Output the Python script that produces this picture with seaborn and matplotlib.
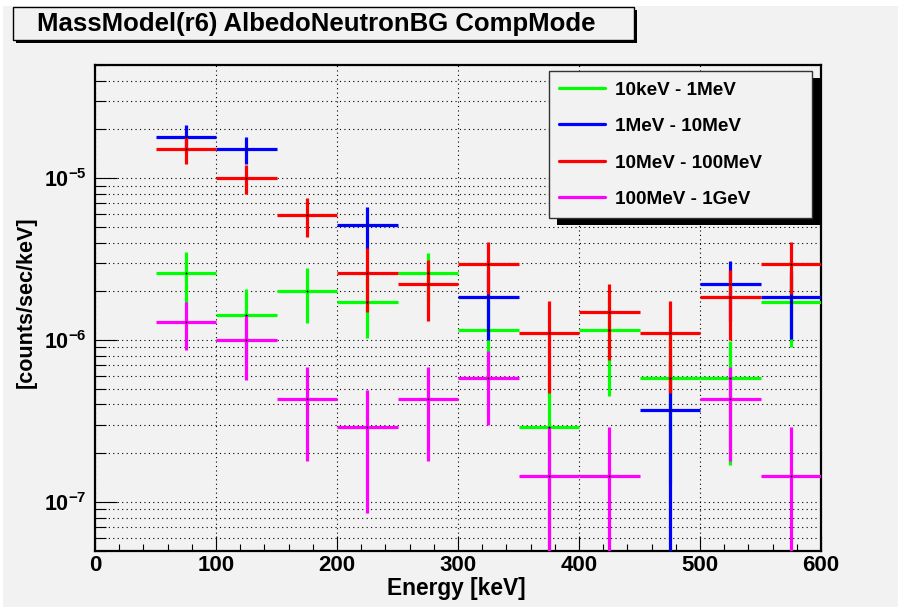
import numpy as np
import pandas as pd
import matplotlib
matplotlib.use("Agg")
import matplotlib.pyplot as plt
import seaborn as sns
from matplotlib import ticker
from matplotlib.patches import Rectangle
from matplotlib.lines import Line2D
from matplotlib.transforms import IdentityTransform

# ---------------- data ----------------
bin_centers = [75, 125, 175, 225, 275, 325, 375, 425, 475, 525, 575]
bin_half_width = 25

series_names = ["10keV - 1MeV", "1MeV - 10MeV", "10MeV - 100MeV", "100MeV - 1GeV"]
series_colors = ["#00ff00", "#0000ff", "#ff0000", "#ff00ff"]

rate_10keV_1MeV = [2.6e-6, 1.43e-6, 2.02e-6, 1.73e-6, 2.6e-6, 1.15e-6, 0.29e-6, 1.15e-6, 0.58e-6, 0.58e-6, 1.73e-6]
err_10keV_1MeV = [0.9e-6, 0.65e-6, 0.75e-6, 0.7e-6, 0.85e-6, 0.6e-6, 0.29e-6, 0.7e-6, 0.45e-6, 0.41e-6, 0.82e-6]

rate_1MeV_10MeV = [18.0e-6, 15.1e-6, np.nan, 5.16e-6, np.nan, 1.85e-6, np.nan, np.nan, 0.37e-6, 2.21e-6, 1.85e-6]
err_1MeV_10MeV = [3.3e-6, 2.9e-6, np.nan, 1.5e-6, np.nan, 0.85e-6, np.nan, np.nan, 0.37e-6, 0.89e-6, 0.83e-6]

rate_10MeV_100MeV = [15.1e-6, 10.0e-6, 5.92e-6, 2.59e-6, 2.21e-6, 2.97e-6, 1.11e-6, 1.48e-6, 1.11e-6, 1.85e-6, 2.97e-6]
err_10MeV_100MeV = [2.9e-6, 2.0e-6, 1.57e-6, 1.1e-6, 0.9e-6, 1.05e-6, 0.64e-6, 0.73e-6, 0.64e-6, 0.85e-6, 1.04e-6]

rate_100MeV_1GeV = [1.3e-6, 1.0e-6, 0.43e-6, 0.29e-6, 0.43e-6, 0.58e-6, 0.144e-6, 0.144e-6, np.nan, 0.43e-6, 0.144e-6]
err_100MeV_1GeV = [0.43e-6, 0.43e-6, 0.25e-6, 0.205e-6, 0.25e-6, 0.28e-6, 0.145e-6, 0.145e-6, np.nan, 0.25e-6, 0.145e-6]

x_ticks = [0, 100, 200, 300, 400, 500, 600]
title_text = "MassModel(r6) AlbedoNeutronBG CompMode"
x_label = "Energy [keV]"
y_label = "[counts/sec/keV]"

rates = [rate_10keV_1MeV, rate_1MeV_10MeV, rate_10MeV_100MeV, rate_100MeV_1GeV]
errs = [err_10keV_1MeV, err_1MeV_10MeV, err_10MeV_100MeV, err_100MeV_1GeV]
frames = []
for name, r, e in zip(series_names, rates, errs):
    frames.append(pd.DataFrame({"series": name, "energy": bin_centers, "rate": r, "err": e}))
df = pd.concat(frames, ignore_index=True).dropna()

# ---------------- style ----------------
sns.set_theme(style="ticks")
plt.rcParams["font.family"] = ["Liberation Sans", "DejaVu Sans"]
plt.rcParams["font.weight"] = "bold"
plt.rcParams["text.color"] = "black"
plt.rcParams["axes.labelcolor"] = "black"
plt.rcParams["xtick.color"] = "black"
plt.rcParams["ytick.color"] = "black"
plt.rcParams["mathtext.fontset"] = "custom"
plt.rcParams["mathtext.rm"] = "Liberation Sans:bold"
plt.rcParams["mathtext.bf"] = "Liberation Sans:bold"
plt.rcParams["mathtext.it"] = "Liberation Sans:bold"
plt.rcParams["mathtext.default"] = "bf"

W, H = 898, 607
bg = "#f2f2f2"
fig = plt.figure(figsize=(W / 100, H / 100), dpi=100, facecolor="white")
# canvas background (thin white border at left/top)
fig.add_artist(Rectangle((3 / W, 0), 1, 1 - 6 / H, transform=fig.transFigure,
                         facecolor=bg, edgecolor="none", zorder=0))

L, R, T, B = 95, 821, 65, 550.7
ax = fig.add_axes([L / W, 1 - B / H, (R - L) / W, (B - T) / H])
ax.set_facecolor(bg)
ax.set_yscale("log")

for name, color in zip(series_names, series_colors):
    d = df[df["series"] == name]
    ax.errorbar(d["energy"], d["rate"], yerr=d["err"], xerr=bin_half_width,
                fmt="none", ecolor=color, elinewidth=2.3, capsize=0, zorder=3)

sns.scatterplot(data=df, x="energy", y="rate", color="black", s=2, linewidth=0,
                ax=ax, zorder=4, legend=False)

ax.set_xlim(0, 600)
ax.set_ylim(5e-8, 5e-5)
ax.set_xticks(x_ticks)
ax.xaxis.set_minor_locator(ticker.MultipleLocator(20))
ax.yaxis.set_major_locator(ticker.LogLocator(base=10, numticks=10))
ax.yaxis.set_minor_locator(ticker.LogLocator(base=10, subs=np.arange(2, 10), numticks=20))
ax.yaxis.set_major_formatter(ticker.FuncFormatter(lambda v, p: r"$\mathbf{10^{%d}}$" % round(np.log10(v))))
ax.yaxis.set_minor_formatter(ticker.NullFormatter())

ax.grid(True, which="major", axis="x", color="black", linestyle=(0, (1, 3)), linewidth=0.8)
ax.grid(True, which="both", axis="y", color="black", linestyle=(0, (1, 3)), linewidth=0.8)
ax.set_axisbelow(True)

for s in ax.spines.values():
    s.set_linewidth(1.6)
    s.set_color("black")

ax.tick_params(axis="x", which="major", direction="in", length=10.5, width=0.8, pad=3, labelsize=16)
ax.tick_params(axis="x", which="minor", direction="in", length=5.2, width=0.8)
ax.tick_params(axis="y", which="major", direction="in", length=15.7, width=0.8, pad=6, labelsize=15.5)
ax.tick_params(axis="y", which="minor", direction="in", length=7.9, width=0.8)
for lab in ax.get_xticklabels() + ax.get_yticklabels():
    lab.set_fontweight("bold")

ax.set_xlabel(x_label, fontsize=16.4, fontweight="bold")
ax.xaxis.set_label_coords(0.498, -0.054)
ax.set_ylabel(y_label, fontsize=15.5, fontweight="bold")
ax.yaxis.set_label_coords(-0.0799, 0.512)

# legend
handles = [Line2D([0], [0], color=c, lw=2.3) for c in series_colors]
leg = ax.legend(handles, series_names, loc="upper left",
                bbox_to_anchor=(549 / W, 1 - 217 / H, (812 - 549) / W, (217 - 71) / H),
                bbox_transform=fig.transFigure, mode="expand", borderaxespad=0,
                prop={"size": 13.6, "weight": "bold"}, handlelength=2.4, handletextpad=0.55,
                borderpad=0.55, labelspacing=1.02, frameon=True, fancybox=False, shadow=False)
leg.get_frame().set_facecolor(bg)
leg.get_frame().set_edgecolor("#333333")
leg.get_frame().set_linewidth(1.0)
leg.get_frame().set_alpha(1)
leg.set_zorder(6)

# title box
fig.add_artist(Rectangle((16 / W, 1 - 43 / H), (637 - 16) / W, (43 - 10) / H, transform=fig.transFigure,
                         facecolor="black", edgecolor="none", zorder=2))
fig.add_artist(Rectangle((13 / W, 1 - 40 / H), (634 - 13) / W, (40 - 7) / H, transform=fig.transFigure,
                         facecolor=bg, edgecolor="black", linewidth=1.0, zorder=3))
fig.text(37 / W, 1 - 31.5 / H, title_text, fontsize=18.5, fontweight="bold", ha="left",
         va="baseline", zorder=4)

# legend shadow
fig.canvas.draw()
bb = leg.get_window_extent()
ax.add_patch(Rectangle((bb.x0 + 8, bb.y0 - 7), bb.width, bb.height, transform=IdentityTransform(),
                       facecolor="black", edgecolor="none", zorder=5.5, clip_on=False))

fig.savefig("out.png", dpi=100, facecolor=fig.get_facecolor())
